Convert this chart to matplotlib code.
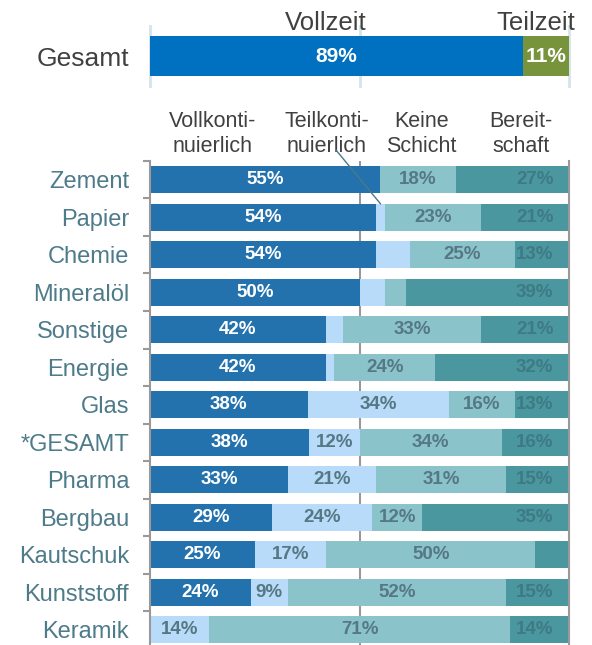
import numpy as np
import matplotlib.pyplot as plt
from matplotlib.transforms import blended_transform_factory

plt.rcParams['font.family'] = ['Liberation Sans', 'DejaVu Sans']

# Daten
branchen = ['Zement', 'Papier', 'Chemie', 'Mineralöl', 'Sonstige', 'Energie', 'Glas',
            '*GESAMT', 'Pharma', 'Bergbau', 'Kautschuk', 'Kunststoff', 'Keramik']
vollkont = [55, 54, 54, 50, 42, 42, 38, 38, 33, 29, 25, 24, 0]
teilkont = [0, 2, 8, 6, 4, 2, 34, 12, 21, 24, 17, 9, 14]
keine = [18, 23, 25, 5, 33, 24, 16, 34, 31, 12, 50, 52, 71]
bereit = [27, 21, 13, 39, 21, 32, 13, 16, 15, 35, 8, 15, 14]
spalten = ['Vollkonti-\nnuierlich', 'Teilkonti-\nnuierlich', 'Keine\nSchicht', 'Bereit-\nschaft']

gesamt_vollzeit = 89
gesamt_teilzeit = 11

W, H = 592, 645
fig = plt.figure(figsize=(W / 100, H / 100), dpi=100)

def px_ax(x0, y0, x1, y1):
    # Achse aus Pixelkoordinaten (oben links als Ursprung)
    return fig.add_axes([x0 / W, 1 - y1 / H, (x1 - x0) / W, (y1 - y0) / H])

# ---- oberer Balken: Gesamt ----
ax0 = px_ax(150, 26, 569, 86)
ax0.set_xlim(0, 100)
ax0.set_ylim(-0.5, 0.5)
for g in [0, 50, 100]:
    ax0.axvline(g, color='#D5E3EB', lw=2, zorder=0, clip_on=False)
ax0.barh(0, gesamt_vollzeit, height=0.667, color='#0070C0', zorder=2)
ax0.barh(0, gesamt_teilzeit, left=gesamt_vollzeit, height=0.667, color='#77933C', zorder=2)
ax0.text(gesamt_vollzeit / 2, 0, f'{gesamt_vollzeit}%', ha='center', va='center',
         color='white', fontsize=15, fontweight='bold', zorder=3)
ax0.text(gesamt_vollzeit + gesamt_teilzeit / 2, 0, f'{gesamt_teilzeit}%', ha='center',
         va='center', color='white', fontsize=15, fontweight='bold', zorder=3)
for s in ax0.spines.values():
    s.set_visible(False)
ax0.set_xticks([])
ax0.set_yticks([0])
ax0.set_yticklabels(['Gesamt'], fontsize=19, color='#404040')
ax0.tick_params(axis='y', length=0, pad=15)
tr0 = blended_transform_factory(ax0.transData, fig.transFigure)
ax0.text(42, 1 - 30 / H, 'Vollzeit', transform=tr0, ha='center', va='baseline',
         fontsize=18.5, color='#404040')
ax0.text(92, 1 - 30 / H, 'Teilzeit', transform=tr0, ha='center', va='baseline',
         fontsize=18.5, color='#404040')

# ---- unteres Diagramm: Branchen (100%-gestapelt) ----
ax = px_ax(150, 161, 569, 161 + 13 * 37.5)
y = np.arange(len(branchen))
farben = ['#2372AE', '#B8DBF9', '#8BC3CA', '#4A979F']
reihen = np.array([vollkont, teilkont, keine, bereit], dtype=float)
anteile = reihen / reihen.sum(axis=0) * 100
links = np.zeros(len(branchen))
for i, farbe in enumerate(farben):
    werte = anteile[i]
    ax.barh(y, werte, left=links, height=0.72, color=farbe, zorder=2)
    for yi in range(len(branchen)):
        v = int(reihen[i, yi])
        if v < 9:
            continue
        mitte = links[yi] + werte[yi] / 2
        if i == 0:
            ax.text(mitte, yi, f'{v}%', ha='center', va='center', color='white',
                    fontsize=13.5, fontweight='bold', zorder=3)
        elif i == 3:
            ax.text(96.3, yi, f'{v}%', ha='right', va='center', color='#3F7A84',
                    fontsize=13.5, fontweight='bold', zorder=3)
        else:
            ax.text(mitte, yi, f'{v}%', ha='center', va='center', color='#557884',
                    fontsize=13.5, fontweight='bold', zorder=3)
    links = links + werte

ax.set_xlim(0, 100)
ax.set_ylim(len(branchen) - 0.5, -0.5)
ax.axvline(50, color='#999999', lw=1.5, zorder=1)
ax.set_xticks([])
ax.set_yticks(y)
ax.set_yticklabels(branchen, fontsize=17, color='#4E7B8A')
ax.set_yticks(np.arange(-0.5, len(branchen), 1), minor=True)
ax.tick_params(axis='y', which='major', length=0, pad=15)
ax.tick_params(axis='y', which='minor', length=5, width=1.5, color='#999999')
ax.spines['top'].set_visible(False)
ax.spines['bottom'].set_visible(False)
for s in ['left', 'right']:
    ax.spines[s].set_color('#999999')
    ax.spines[s].set_linewidth(1.5)

# Spaltenueberschriften
tr = blended_transform_factory(ax.transData, fig.transFigure)
for xs, txt in zip([15.0, 42.2, 64.7, 88.5], spalten):
    ax.text(xs, 1 - 134 / H, txt, transform=tr, ha='center', va='center',
            fontsize=15.5, color='#404040', linespacing=1.3)

# Hinweislinie Teilkontinuierlich -> Papier
ziel_x = anteile[0, 1] + anteile[1, 1] / 2
ax.plot([44.4, ziel_x], [-0.79, 1 - 0.36], color='#4A7A8A',
        lw=1, clip_on=False, zorder=4)

fig.savefig('out.png', dpi=100)
